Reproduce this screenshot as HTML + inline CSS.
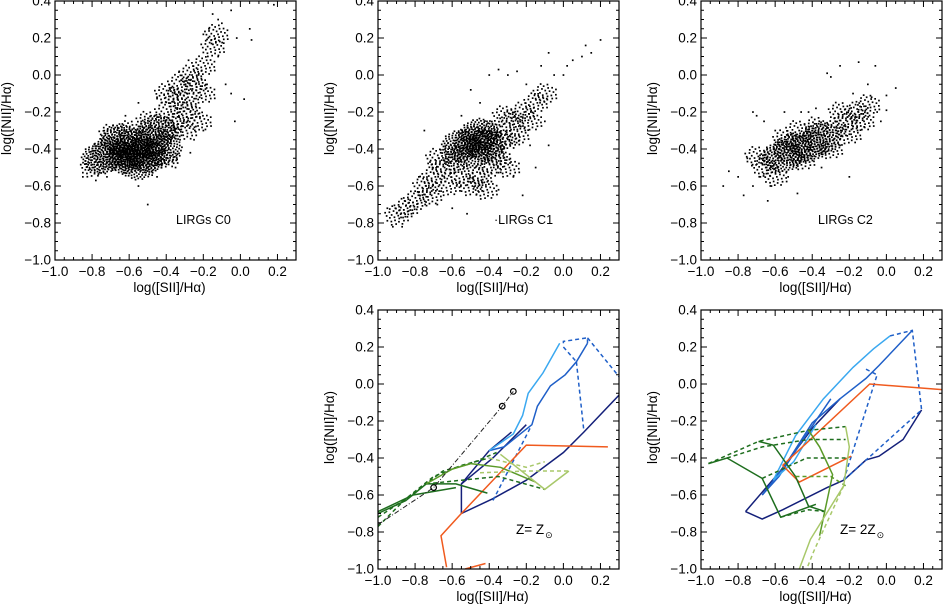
<!DOCTYPE html>
<html><head><meta charset="utf-8">
<style>
html,body{margin:0;padding:0;background:#fff;}
svg{display:block;font-family:"Liberation Sans",sans-serif;}
</style></head>
<body>
<svg id="fig" width="943" height="607" viewBox="0 0 943 607"></svg>
<script>
// ---------------- data ----------------
const xTicks = [-1.0,-0.8,-0.6,-0.4,-0.2,0.0,0.2];
const yTicks = [-1.0,-0.8,-0.6,-0.4,-0.2,0.0,0.2,0.4];
const xTickLabels = ["\u22121.0","\u22120.8","\u22120.6","\u22120.4","\u22120.2","0.0","0.2"];
const yTickLabels = ["\u22121.0","\u22120.8","\u22120.6","\u22120.4","\u22120.2","0.0","0.2","0.4"];

// [x, y, density weight 0..2]
const c0Points = [[-0.7,-0.42,2],[-0.62,-0.45,2],[-0.58,-0.38,2],[-0.52,-0.42,2],[-0.48,-0.36,2],[-0.42,-0.4,2],[-0.65,-0.35,2],[-0.55,-0.48,2],[-0.45,-0.3,2],[-0.75,-0.45,2],[-0.6,-0.42,2],[-0.5,-0.44,2],
 [-0.8,-0.5,1],[-0.38,-0.3,1],[-0.35,-0.25,1],[-0.4,-0.2,1],[-0.3,-0.3,1],[-0.5,-0.25,1],[-0.6,-0.3,1],[-0.3,-0.15,1],[-0.25,-0.05,1],[-0.2,0.05,1],[-0.15,0.15,1],[-0.35,-0.12,1],[-0.28,-0.2,1],[-0.22,-0.25,1],[-0.7,-0.32,1],[-0.4,-0.45,1],[-0.33,-0.05,1],[-0.27,0.0,1],[-0.13,0.22,1],[-0.2,-0.1,1],[-0.4,-0.1,1],
 [-0.85,-0.55,0],[-0.83,-0.48,0],[-0.78,-0.57,0],[-0.72,-0.55,0],[-0.55,-0.6,0],[-0.5,-0.7,0],[-0.45,-0.55,0],[-0.35,-0.5,0],[-0.25,-0.35,0],[-0.2,-0.3,0],[-0.22,-0.12,0],[-0.18,-0.05,0],[-0.12,0.1,0],[-0.1,0.28,0],[-0.08,-0.05,0],[-0.05,-0.1,0],[-0.03,-0.25,0],[-0.02,0.2,0],[0.02,-0.13,0],[0.05,0.25,0],[0.06,0.19,0],[0.18,0.38,0],[-0.15,0.33,0],[-0.12,0.3,0],[-0.2,0.22,0],[-0.28,0.08,0],[-0.33,0.02,0],[-0.45,-0.12,0],[-0.55,-0.15,0],[-0.62,-0.22,0],[-0.05,0.35,0],[-0.17,0.25,0],[-0.27,-0.42,0]];
const c1Points = [[-0.55,-0.38,2],[-0.48,-0.36,2],[-0.42,-0.38,2],[-0.5,-0.42,2],[-0.45,-0.32,2],[-0.6,-0.42,1],[-0.38,-0.42,1],[-0.4,-0.3,1],[-0.58,-0.48,1],[-0.35,-0.35,1],
 [-0.9,-0.76,1],[-0.85,-0.72,1],[-0.8,-0.68,1],[-0.75,-0.6,1],[-0.7,-0.55,1],[-0.65,-0.5,1],[-0.62,-0.6,1],[-0.55,-0.55,1],[-0.5,-0.6,1],[-0.45,-0.55,1],[-0.4,-0.5,1],[-0.35,-0.45,1],[-0.3,-0.35,1],[-0.28,-0.25,1],[-0.22,-0.2,1],[-0.15,-0.15,1],[-0.1,-0.1,1],[-0.32,-0.22,1],[-0.68,-0.45,1],[-0.72,-0.65,1],[-0.42,-0.62,1],[-0.3,-0.5,1],[-0.25,-0.32,1],[-0.18,-0.25,1],
 [-0.95,-0.72,0],[-0.92,-0.82,0],[-0.87,-0.82,0],[-0.82,-0.75,0],[-0.78,-0.55,0],[-0.75,-0.3,0],[-0.72,-0.47,0],[-0.68,-0.7,0],[-0.6,-0.72,0],[-0.55,-0.22,0],[-0.52,-0.75,0],[-0.45,-0.15,0],[-0.4,0.0,0],[-0.35,0.03,0],[-0.3,0.0,0],[-0.25,0.02,0],[-0.2,-0.05,0],[-0.18,-0.38,0],[-0.15,-0.5,0],[-0.22,-0.65,0],[-0.08,0.12,0],[-0.05,0.0,0],[0.0,0.0,0],[0.02,0.05,0],[0.05,0.08,0],[0.1,0.1,0],[0.12,0.16,0],[0.15,0.12,0],[0.2,0.19,0],[-0.1,-0.25,0],[-0.08,-0.38,0],[-0.12,0.05,0],[-0.5,-0.08,0],[-0.35,-0.62,0],[-0.27,-0.55,0]];
const c2Points = [[-0.5,-0.4,2],[-0.42,-0.38,2],[-0.35,-0.34,2],[-0.56,-0.44,2],[-0.28,-0.3,1],[-0.22,-0.25,1],[-0.16,-0.2,1],[-0.1,-0.16,1],[-0.62,-0.45,1],[-0.45,-0.46,1],[-0.38,-0.28,1],[-0.3,-0.4,1],[-0.66,-0.5,1],[-0.7,-0.44,1],[-0.55,-0.35,1],[-0.25,-0.2,1],[-0.2,-0.32,1],[-0.13,-0.25,1],[-0.6,-0.55,1],[-0.48,-0.3,1],
 [-0.88,-0.6,0],[-0.85,-0.52,0],[-0.8,-0.55,0],[-0.77,-0.65,0],[-0.75,-0.45,0],[-0.72,-0.6,0],[-0.72,-0.2,0],[-0.7,-0.22,0],[-0.68,-0.55,0],[-0.66,-0.25,0],[-0.64,-0.68,0],[-0.62,-0.6,0],[-0.6,-0.3,0],[-0.55,-0.2,0],[-0.53,-0.55,0],[-0.48,-0.64,0],[-0.46,-0.2,0],[-0.42,-0.2,0],[-0.38,-0.18,0],[-0.35,-0.5,0],[-0.32,0.01,0],[-0.3,-0.01,0],[-0.25,0.05,0],[-0.2,-0.55,0],[-0.2,-0.32,0],[-0.15,0.07,0],[-0.12,-0.28,0],[-0.08,-0.12,0],[-0.06,0.05,0],[-0.05,-0.2,0],[-0.03,-0.25,0],[0.0,-0.19,0],[0.0,-0.11,0],[0.05,-0.07,0],[-0.1,-0.05,0],[-0.18,-0.1,0],[-0.25,-0.38,0]];

// model grid lines, panel Z=Zsun : [color, dashed, points]
const zSunLines = [
 ["#14207a",0,[[-0.55,-0.70],[-0.55,-0.54],[-0.4,-0.36],[-0.28,-0.26]]],
 ["#14207a",0,[[-0.55,-0.70],[-0.38,-0.62],[-0.2,-0.52],[0.0,-0.37],[0.11,-0.26],[0.3,-0.06]]],
 ["#14207a",0,[[-0.55,-0.54],[-0.38,-0.4],[-0.2,-0.22]]],
 ["#1f5fc8",0,[[-0.4,-0.36],[-0.32,-0.34],[-0.22,-0.26],[-0.17,-0.22],[-0.14,-0.12],[-0.07,-0.01],[0.01,0.05],[0.07,0.12],[0.13,0.22]]],
 ["#1f5fc8",1,[[0.13,0.22],[0.13,0.25],[0.0,0.23],[0.0,0.22]]],
 ["#1f5fc8",1,[[0.13,0.25],[0.3,0.04]]],
 ["#1f5fc8",1,[[0.07,0.12],[0.11,-0.25]]],
 ["#1f5fc8",1,[[0.0,0.2],[0.07,0.12]]],
 ["#1f5fc8",1,[[-0.18,-0.24],[-0.38,-0.63]]],
 ["#3aa8f0",0,[[-0.4,-0.36],[-0.27,-0.27],[-0.22,-0.17],[-0.19,-0.05],[-0.11,0.06],[-0.02,0.22]]],
 ["#f05a1e",0,[[-0.63,-0.99],[-0.66,-0.82],[-0.56,-0.71],[-0.2,-0.33],[0.24,-0.34]]],
 ["#f05a1e",0,[[-0.53,-1.0],[-0.42,-0.97]]],
 ["#1e6e1e",0,[[-1.0,-0.70],[-0.85,-0.63],[-0.74,-0.54],[-0.58,-0.54],[-0.41,-0.59]]],
 ["#1e6e1e",0,[[-1.0,-0.69],[-0.81,-0.6],[-0.58,-0.56]]],
 ["#1e6e1e",1,[[-1.0,-0.77],[-0.85,-0.62],[-0.7,-0.5],[-0.55,-0.44],[-0.4,-0.4]]],
 ["#1e6e1e",1,[[-1.0,-0.72],[-0.82,-0.6],[-0.65,-0.47],[-0.5,-0.43],[-0.36,-0.37]]],
 ["#1e6e1e",1,[[-0.74,-0.54],[-0.55,-0.52],[-0.35,-0.5],[-0.1,-0.57]]],
 ["#5a9a28",0,[[-0.5,-0.43],[-0.34,-0.45],[-0.15,-0.53]]],
 ["#5a9a28",0,[[-0.74,-0.54],[-0.6,-0.46],[-0.5,-0.43]]],
 ["#a8c86a",0,[[-0.34,-0.38],[-0.1,-0.57],[0.03,-0.47]]],
 ["#a8c86a",1,[[-0.45,-0.48],[-0.2,-0.47],[0.03,-0.47]]],
 ["#a8c86a",1,[[-0.4,-0.4],[-0.2,-0.45],[-0.1,-0.42]]]
];
const zSunTrack = [[-1.0,-0.76],[-0.7,-0.56],[-0.33,-0.12],[-0.27,-0.04]];
const zSunMarkers = [[-0.7,-0.56],[-0.33,-0.12],[-0.27,-0.04]];

// model grid lines, panel Z=2Zsun
const z2SunLines = [
 ["#14207a",0,[[-0.76,-0.69],[-0.67,-0.73],[-0.56,-0.68],[-0.32,-0.56],[-0.23,-0.52],[-0.11,-0.41],[-0.04,-0.39],[0.09,-0.30],[0.19,-0.14]]],
 ["#14207a",0,[[-0.76,-0.69],[-0.58,-0.48],[-0.4,-0.24],[-0.25,-0.08]]],
 ["#1f5fc8",0,[[-0.67,-0.60],[-0.54,-0.43],[-0.40,-0.21],[-0.25,-0.08],[-0.11,0.03],[-0.04,0.10],[0.14,0.29]]],
 ["#1f5fc8",0,[[-0.67,-0.60],[-0.58,-0.5],[-0.45,-0.3],[-0.3,-0.08]]],
 ["#1f5fc8",1,[[0.02,0.26],[0.14,0.29],[0.19,-0.14],[-0.23,-0.52]]],
 ["#1f5fc8",1,[[-0.11,0.08],[-0.05,0.05],[-0.23,-0.52]]],
 ["#3aa8f0",0,[[-0.61,-0.52],[-0.49,-0.28],[-0.34,-0.08],[-0.18,0.09],[-0.07,0.19],[0.02,0.26]]],
 ["#3aa8f0",0,[[-0.61,-0.52],[-0.5,-0.42],[-0.38,-0.22]]],
 ["#f05a1e",0,[[-0.56,-0.44],[-0.47,-0.53],[-0.19,-0.39]]],
 ["#f05a1e",0,[[-0.56,-0.44],[-0.09,0.0],[0.30,-0.03]]],
 ["#1e6e1e",0,[[-0.96,-0.43],[-0.86,-0.40],[-0.67,-0.51],[-0.57,-0.72],[-0.38,-0.65]]],
 ["#1e6e1e",0,[[-0.69,-0.31],[-0.61,-0.33],[-0.49,-0.50],[-0.42,-0.66],[-0.33,-0.69]]],
 ["#1e6e1e",1,[[-0.96,-0.43],[-0.69,-0.31],[-0.42,-0.25],[-0.22,-0.23]]],
 ["#1e6e1e",1,[[-0.86,-0.40],[-0.67,-0.34],[-0.42,-0.3],[-0.22,-0.3]]],
 ["#1e6e1e",1,[[-0.67,-0.51],[-0.43,-0.40],[-0.22,-0.40]]],
 ["#1e6e1e",1,[[-0.57,-0.72],[-0.42,-0.68],[-0.33,-0.69]]],
 ["#5a9a28",0,[[-0.42,-0.25],[-0.36,-0.34],[-0.29,-0.49],[-0.36,-0.82]]],
 ["#5a9a28",1,[[-0.49,-0.50],[-0.3,-0.5],[-0.22,-0.55]]],
 ["#a8c86a",0,[[-0.22,-0.23],[-0.2,-0.34],[-0.23,-0.55],[-0.41,-0.84],[-0.47,-1.0]]],
 ["#a8c86a",1,[[-0.23,-0.55],[-0.39,-0.9],[-0.43,-1.0]]]
];

// ---------------- layout ----------------
const NS = "http://www.w3.org/2000/svg";
const svg = document.getElementById("fig");
const XMIN=-1.0, XMAX=0.3, YMIN=-1.0, YMAX=0.4;
const PW=241, PH=259;
function mk(tag, attrs, parent){ const e=document.createElementNS(NS,tag); for(const k in attrs) e.setAttribute(k,attrs[k]); (parent||svg).appendChild(e); return e; }

function makePanel(name, left, top){
  const g = mk("g",{});
  
  
  const sx = v => left + (v-XMIN)/(XMAX-XMIN)*PW;
  const sy = v => top + (YMAX-v)/(YMAX-YMIN)*PH;
  const cp = mk("clipPath",{id:"clip-"+name},g);
  mk("rect",{x:left,y:top,width:PW,height:PH},cp);
  const plot = mk("g",{"clip-path":"url(#clip-"+name+")"},g);
  const fr = mk("rect",{x:left,y:top,width:PW,height:PH,fill:"none",stroke:"#000","stroke-width":1.2},g);
  
  
  for(let i=-20;i<=6;i++){
    const v=i*0.05; const major = (i%4===0);
    const L = major?6:3;
    const x=sx(v);
    mk("line",{x1:x,y1:top+PH,x2:x,y2:top+PH-L,stroke:"#000","stroke-width":1},g);
    mk("line",{x1:x,y1:top,x2:x,y2:top+L,stroke:"#000","stroke-width":1},g);
  }
  for(let i=-20;i<=8;i++){
    const v=i*0.05; const major=(i%4===0);
    const L = major?6:3;
    const y=sy(v);
    mk("line",{x1:left,y1:y,x2:left+L,y2:y,stroke:"#000","stroke-width":1},g);
    mk("line",{x1:left+PW,y1:y,x2:left+PW-L,y2:y,stroke:"#000","stroke-width":1},g);
  }
  xTicks.forEach((v,i)=>{
    const t=mk("text",{x:sx(v),y:top+PH+16,"text-anchor":"middle","font-size":13.5,fill:"#000"},g);
    t.textContent=xTickLabels[i];
    
    
  });
  yTicks.forEach((v,i)=>{
    const t=mk("text",{x:left-4,y:sy(v)+4.5,"text-anchor":"end","font-size":13.5,fill:"#000"},g);
    t.textContent=yTickLabels[i];
    
    
  });
  const xl=mk("text",{x:left+PW/2-6,y:top+PH+32,"text-anchor":"middle","font-size":13.5,fill:"#000"},g);
  xl.textContent="log([SII]/H\u03B1)";
  
  
  const yx=left-44, yy=top+PH/2-12;
  const yl=mk("text",{x:yx,y:yy,"text-anchor":"middle","font-size":13.5,fill:"#000",transform:"rotate(-90 "+yx+" "+yy+")"},g);
  yl.textContent="log([NII]/H\u03B1)";
  
  
  return {g,plot,sx,sy,left,top};
}

// deterministic spiral spread patterns (pixels), by density weight
function spiral(N,R){ const o=[]; for(let k=0;k<N;k++){ const r=R*Math.sqrt((k+0.5)/N), a=k*2.39996; o.push([r*Math.cos(a), r*Math.sin(a)*0.8]); } return o; }
const spreads = [[[0,0]], spiral(30,13), spiral(130,20)];

function scatter(P, pts, label, lx, ly){
  pts.forEach(p=>{
    const cx=P.sx(p[0]), cy=P.sy(p[1]);
    spreads[p[2]].forEach(o=>{
      const d=mk("rect",{x:(cx+o[0]-0.8).toFixed(1),y:(cy+o[1]-0.8).toFixed(1),width:1.7,height:1.7,fill:"#000"},P.plot);
      
      
    });
  });
  const t=mk("text",{x:lx,y:ly,"font-size":12.5,fill:"#000"},P.g);
  t.textContent=label;
  
  
}

function grid(P, lines){
  lines.forEach(l=>{
    const d=l[2].map((p,i)=>(i?"L":"M")+P.sx(p[0]).toFixed(1)+","+P.sy(p[1]).toFixed(1)).join(" ");
    const a={d:d,fill:"none",stroke:l[0],"stroke-width":1.5};
    if(l[1]) a["stroke-dasharray"]="4,3";
    const e=mk("path",a,P.plot);
    
    
  });
}

const p1=makePanel("panel-c0",55,1);
const p2=makePanel("panel-c1",378,1);
const p3=makePanel("panel-c2",701,1);
const p5=makePanel("panel-z-solar",378,310);
const p6=makePanel("panel-z-2solar",701,310);

scatter(p1,c0Points,"LIRGs  C0",176,224);
scatter(p2,c1Points,"\u00B7LIRGs  C1",494,224);
scatter(p3,c2Points,"LIRGs  C2",818,224);

grid(p5,zSunLines);
const tr=mk("path",{d:zSunTrack.map((p,i)=>(i?"L":"M")+p5.sx(p[0])+","+p5.sy(p[1])).join(" "),fill:"none",stroke:"#222","stroke-width":1,"stroke-dasharray":"5,2,1,2"},p5.plot);


zSunMarkers.forEach(p=>{
  const c=mk("circle",{cx:p5.sx(p[0]),cy:p5.sy(p[1]),r:2.8,fill:"none",stroke:"#000","stroke-width":1.2},p5.plot);
  
  
});
grid(p6,z2SunLines);

function zLabel(P,x,y,pre){
  const t=mk("text",{x:x,y:y,"font-size":13.5,fill:"#000"},P.g);
  t.textContent="Z=  "+pre+"Z";
  
  
  const w=t.getComputedTextLength();
  const s=mk("text",{x:x+w+1,y:y+4,"font-size":9,fill:"#000"},P.g);
  s.textContent="\u2299";
  
  
}
zLabel(p5,516,534,"");
zLabel(p6,840,534,"2");
</script>
</body></html>
